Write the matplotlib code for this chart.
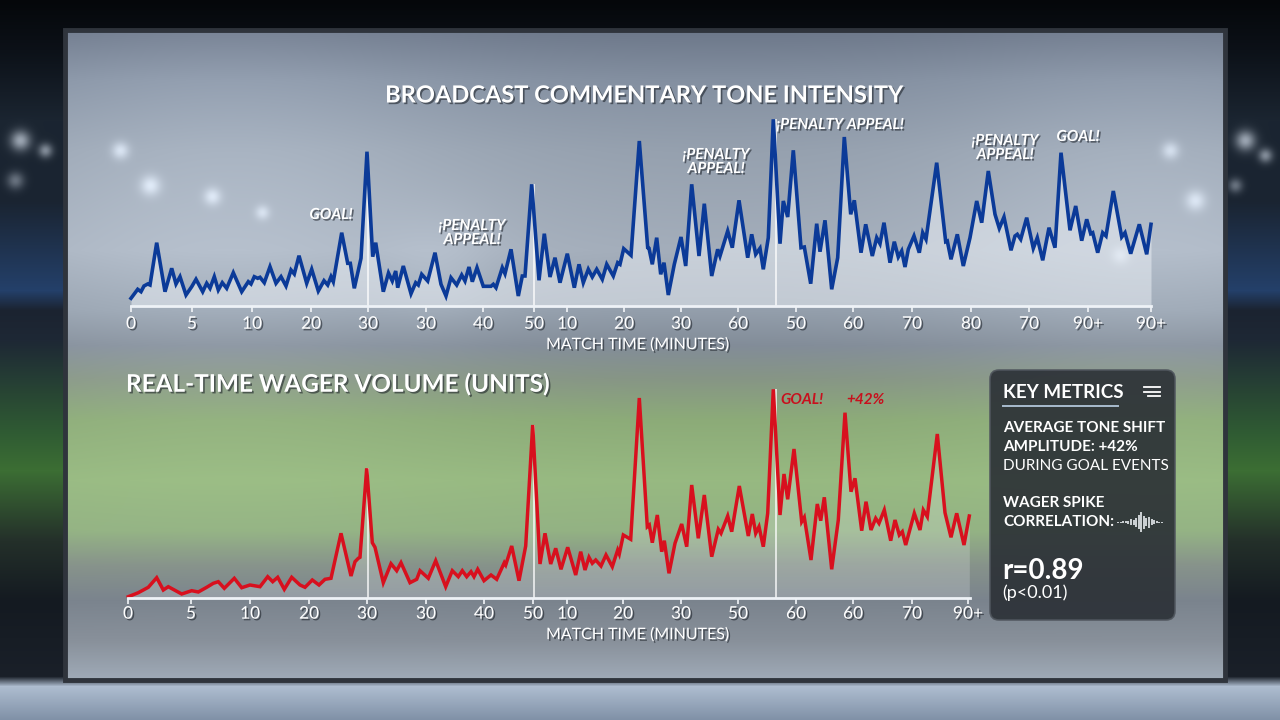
import numpy as np
import matplotlib
matplotlib.use("Agg")
import matplotlib.pyplot as plt
from matplotlib import patheffects as pe
from matplotlib.patches import Rectangle, FancyBboxPatch
from matplotlib.lines import Line2D

# ---------------- data ----------------
# timeline position of each sample (shared scale for both panels)
tone_t = [131, 137.7, 141, 144, 147.7, 150, 156.7, 165, 171.7, 176,
          180, 186, 191.7, 196, 202.7, 206.7, 210, 214.3, 218.3, 222.3,
          226.7, 233.3, 241.7, 248.3, 251, 254.3, 257.7, 260, 264.3, 270,
          276, 281, 286, 291, 294.3, 299, 306.7, 311.7, 318.3, 324,
          327.7, 331, 333.3, 341.7, 347.7, 350.3, 354.3, 361, 367, 372.7,
          375.7, 383.3, 388.5, 392.3, 395.7, 397.7, 403.3, 411, 415.7, 418.3,
          421.7, 427.7, 435, 441, 446, 451, 456.7, 461.7, 465, 469,
          472.3, 477, 483.3, 491, 493.3, 496, 502.3, 505, 511, 518.3,
          522.3, 525, 531.7, 539, 544.3, 550, 555, 560, 567.3, 574.3,
          579, 583.3, 588.3, 592.3, 596.7, 602.3, 606.7, 613.3, 617.7, 620,
          623.7, 631, 639.3, 647.7, 649, 652.3, 656.7, 660.7, 664, 668.3,
          674.3, 681, 685.7, 691.7, 699, 704.3, 711.7, 717.7, 720, 727.7,
          732.3, 739, 747.7, 751.7, 755.7, 760, 763.3, 768.3, 773.3, 780,
          783.3, 787.7, 793.3, 801, 804.3, 810.7, 816.7, 820, 825, 831.7,
          837.7, 844.3, 850.7, 854.3, 861, 865.7, 872.3, 876.7, 880, 884,
          890, 894.3, 898.3, 901.7, 905, 908.3, 914, 919.3, 922.7, 926,
          936.7, 945.7, 947.3, 951, 957.3, 963.3, 970, 976.7, 981.7, 988.3,
          995, 999.3, 1004, 1011, 1015, 1017.3, 1020.7, 1026.7, 1033.3, 1037.3,
          1042.7, 1049, 1055, 1061, 1070, 1075.7, 1081.7, 1086.7, 1090.7, 1092.7,
          1097.7, 1102.7, 1106, 1113.3, 1121.7, 1125, 1130.7, 1139.3, 1146.7, 1151]
tone_v = [7.7, 16.7, 14.3, 20, 22, 21, 63.3, 14.3, 37.7, 22,
          29.3, 11, 19.3, 26.7, 14.3, 22.7, 17.7, 29.3, 16, 23.3,
          17.7, 33.3, 14.3, 24.3, 22, 29.3, 27.7, 28.7, 23.3, 39.3,
          22.7, 29.3, 20, 36, 32, 50.3, 22.7, 36.7, 15, 25.3,
          21, 29.3, 24.3, 73.3, 42.7, 42.7, 17.7, 47.7, 154.3, 49.3,
          63.3, 14.3, 33, 25, 35, 18.3, 40, 12.3, 23.3, 21,
          31.7, 25, 53.3, 21.7, 10, 28.3, 21, 31, 25, 39,
          24.3, 38.3, 19.7, 19.7, 21.7, 18.3, 38.3, 32.3, 56.7, 10,
          30, 30, 121.7, 25.7, 72.3, 29, 48.3, 23.3, 52.3, 18.3,
          41.7, 23.3, 36.7, 29, 36.7, 26.7, 41.7, 30, 43.3, 41.7,
          57.3, 50.7, 165, 58.3, 57.7, 41.7, 68.3, 31.7, 43.3, 11,
          41.7, 69, 40, 121.7, 50, 102.3, 30, 56.7, 50, 75,
          58.3, 105.7, 48.3, 71.7, 51.7, 57.7, 36.7, 68.3, 186.7, 62.3,
          105, 89, 155.7, 58.3, 59, 22.3, 82.3, 54.3, 85.7, 16.7,
          48.3, 169, 91.7, 105.7, 53.3, 81.7, 50, 68.3, 62.3, 83.3,
          43.3, 64.3, 49, 55, 39, 56.7, 70, 53.3, 73.3, 66.7,
          143.3, 64.3, 65, 46.7, 71.7, 40, 68.3, 105, 83.3, 135,
          91.7, 77.7, 89, 55.7, 70, 71.7, 66.7, 88.3, 57.7, 68.3,
          45.7, 78.3, 58.3, 153.3, 75.7, 100, 65.3, 86.7, 72.3, 73.3,
          53.3, 73.3, 70, 115, 69, 73.3, 52.3, 81.7, 51.7, 81.7]

wager_t = [128.3, 138.3, 148.3, 156.7, 163.3, 168.3, 181.7, 191.7, 198.3, 206.7,
           213.3, 218.3, 224.3, 234.3, 241.7, 250, 260, 267.7, 272.7, 277.7,
           284.3, 291.7, 300, 305, 312.3, 319, 325, 331, 341, 351,
           355, 358.3, 360, 366.7, 372.3, 375, 383.3, 391, 396.7, 401,
           410, 416.7, 420, 428.3, 435.7, 445.7, 452.3, 458.3, 462.3, 466.7,
           471, 474, 477.7, 484, 491, 496.7, 504.3, 505.7, 511.7, 519,
           525.7, 532.7, 540, 545, 550.7, 555.7, 561, 567.7, 575.7, 580.7,
           585, 589, 592.3, 595.7, 601, 606, 612.3, 617.7, 619.3, 623.3,
           630.7, 639.3, 647.3, 649.3, 652.3, 657.3, 661.7, 664.3, 669, 675,
           681.7, 686.7, 691.7, 698.3, 704.3, 711.7, 718.3, 721, 727.7, 731.7,
           739.3, 748.3, 752.3, 755.7, 759, 763.3, 767.7, 773.3, 780, 784,
           787.7, 794, 801.7, 804.3, 811, 817.3, 820.7, 824.3, 831.7, 838.3,
           845, 851, 855, 861.7, 866, 871, 875.7, 879, 884.3, 890.7,
           895, 899.3, 902.3, 905.7, 914.3, 920, 923.3, 927.3, 937.3, 945,
           951, 956.7, 964, 969.3]
wager_v = [1.3, 5.3, 10.7, 20.3, 8, 11.3, 4, 7.3, 6, 10.7,
           14.7, 16.3, 9.7, 19.7, 10.3, 13, 11.3, 21.3, 16.3, 20.7,
           8.7, 20.7, 13, 10.7, 18, 13, 18.7, 19.7, 64.7, 22,
           36.3, 39.7, 40.7, 129.7, 55.3, 50.7, 15.3, 34.3, 27.3, 35.3,
           15.3, 18.7, 27.3, 19.7, 37.3, 11.3, 27.3, 21.3, 27.3, 21.3,
           26.3, 21.3, 28.7, 17.3, 23, 18.7, 35.3, 33, 52, 17.3,
           52, 173, 34, 64.7, 34, 49.7, 28.7, 50.7, 23, 46.3,
           28, 40.7, 34.7, 38, 32, 43, 31.3, 48, 44, 63,
           58.7, 200, 71.3, 73, 55.3, 83, 46.3, 57.3, 24.7, 54.7,
           74, 51.3, 113, 59.7, 103, 41.3, 68.7, 64.7, 82, 66.3,
           112, 62, 84, 64.7, 71.3, 51.3, 84.7, 208.7, 83, 124,
           98.7, 149, 76.3, 80.7, 38, 94, 77.3, 100.7, 28.7, 78,
           185.3, 106.3, 119.7, 67.3, 96.3, 68, 79.7, 74.7, 88, 57.3,
           78, 63, 66.3, 53, 84.7, 68, 88, 81.3, 164, 85.3,
           60.7, 84.7, 53, 82]

top_tick_pos = [131, 192, 252, 311, 368, 426, 483, 534, 567, 624, 681, 738, 796,
                853, 912, 971, 1029, 1088, 1151]
top_tick_lab = ["0", "5", "10", "20", "30", "30", "40", "50", "10", "20", "30", "60",
                "50", "60", "70", "80", "70", "90+", "90+"]
bot_tick_pos = [128, 191, 250, 309, 367, 426, 484, 533, 567, 623, 681, 738, 796,
                853, 912, 968]
bot_tick_lab = ["0", "5", "10", "20", "30", "30", "40", "50", "10", "20", "30", "50",
                "60", "60", "70", "90+"]
event_t = [368, 534, 776]

top_annotations = [("GOAL!", 331, 215), ("¡PENALTY\nAPPEAL!", 472, 233),
                   ("¡PENALTY\nAPPEAL!", 716, 162), ("¡PENALTY APPEAL!", 840, 125),
                   ("¡PENALTY\nAPPEAL!", 1005, 148), ("GOAL!", 1078, 137)]
bot_annotations = [("GOAL!", 802, 400), ("+42%", 865, 400)]
wave_heights = [1, 1, 2, 2, 3, 6, 5, 9, 14, 20, 13, 8, 11, 6, 4, 2, 1, 1]

FONT = ["Lato", "DejaVu Sans"]
plt.rcParams["font.family"] = FONT

# ---------------- background ----------------
H, W = 720, 1280


def hex2rgb(h):
    return np.array([int(h[i:i + 2], 16) for i in (1, 3, 5)]) / 255.0


def row_grad(ys_stop, cols_stop):
    ys = np.arange(H)
    cols = np.array([hex2rgb(c) for c in cols_stop])
    return np.stack([np.interp(ys, ys_stop, cols[:, k]) for k in range(3)], axis=1)


yy, xx = np.mgrid[0:H, 0:W]


def blob(cx, cy, s, a):
    return a * np.exp(-((xx - cx) ** 2 + (yy - cy) ** 2) / (2.0 * s ** 2))


outside = row_grad([0, 50, 120, 200, 290, 310, 340, 430, 470, 540, 600, 676, 686, 720],
                   ['#05070a', '#0c1118', '#1b2531', '#1a2431', '#24406a', '#1b2330',
                    '#1e2835', '#2f5a33', '#3c6e34', '#24302a', '#141a21', '#1a2029',
                    '#aebdd0', '#7f90a6'])
img = np.repeat(outside[:, None, :], W, axis=1)
og = (blob(20, 140, 7, 0.5) + blob(45, 150, 5, 0.4) + blob(15, 180, 6, 0.3) +
      blob(1245, 140, 7, 0.5) + blob(1265, 155, 5, 0.4) + blob(1235, 185, 5, 0.3))
img = img + og[..., None]

panel = row_grad([30, 80, 150, 250, 310, 345, 378, 420, 480, 530, 565, 600, 640, 680],
                 ['#6c7789', '#838fa0', '#95a0ae', '#a3adba', '#939eab', '#828c98',
                  '#869585', '#8cab78', '#97b981', '#93b283', '#86928a', '#7a838d',
                  '#88909a', '#a0abb8'])
glow = (blob(230, 190, 170, 0.08) + blob(1150, 210, 150, 0.07) +
        blob(120, 150, 6, 0.2) + blob(150, 185, 7, 0.2) + blob(212, 196, 6, 0.18) +
        blob(262, 212, 5, 0.15) + blob(1170, 150, 6, 0.18) + blob(1195, 200, 7, 0.18) +
        blob(1120, 255, 6, 0.15) + blob(440, 270, 40, 0.04))
pimg = panel[:, None, :] + glow[..., None]
mask = (xx >= 65) & (xx <= 1225) & (yy >= 30) & (yy <= 680)
img[mask] = pimg[mask]
img = np.clip(img, 0, 1)

fig = plt.figure(figsize=(12.8, 7.2), dpi=100)
bg = fig.add_axes([0, 0, 1, 1])
bg.imshow(img, extent=(0, W, H, 0), interpolation="bilinear", aspect="auto")
bg.set_xlim(0, W)
bg.set_ylim(H, 0)
bg.axis("off")
bg.add_patch(Rectangle((65, 30), 1160, 650, fill=False, ec="#2f343c", lw=3.5))

shadow = [pe.SimplePatchShadow(offset=(1.2, -1.2), shadow_rgbFace="#141920", alpha=0.55),
          pe.Normal()]

# ---------------- titles ----------------
bg.text(644, 95, "BROADCAST COMMENTARY TONE INTENSITY", color="white",
        fontsize=17, fontweight="bold", ha="center", va="center", path_effects=shadow)
bg.text(126, 384, "REAL-TIME WAGER VOLUME (UNITS)", color="white",
        fontsize=17.5, fontweight="bold", ha="left", va="center", path_effects=shadow)
bg.text(638, 345, "MATCH TIME (MINUTES)", color="white", fontsize=11.5,
        ha="center", va="center", path_effects=shadow)
bg.text(638, 635, "MATCH TIME (MINUTES)", color="white", fontsize=11.5,
        ha="center", va="center", path_effects=shadow)


def style_axis(ax, bounds, ticks, labels, pad):
    ax.patch.set_alpha(0)
    for s in ("top", "right", "left"):
        ax.spines[s].set_visible(False)
    ax.spines["bottom"].set_color("#eef2f7")
    ax.spines["bottom"].set_linewidth(2)
    ax.spines["bottom"].set_bounds(*bounds)
    ax.set_yticks([])
    ax.set_xticks(ticks)
    ax.set_xticklabels(labels)
    ax.tick_params(axis="x", colors="#f2f5f8", length=4, width=1.2, pad=pad,
                   labelsize=12.5, labelcolor="white")
    for lab in ax.get_xticklabels():
        lab.set_path_effects(shadow)


def peak_near(ts, vs, t0, w=6):
    ts = np.asarray(ts)
    vs = np.asarray(vs)
    sel = np.abs(ts - t0) <= w
    return vs[sel].max()


# ---------------- top chart ----------------
ax1 = fig.add_axes([120 / W, (H - 306) / H, 1045 / W, 196 / H])
ax1.fill_between(tone_t, tone_v, 0, color="#e8edf3", alpha=0.55, lw=0)
ax1.vlines(event_t, 0, [peak_near(tone_t, tone_v, e) for e in event_t],
           color="white", lw=1.1, alpha=0.9)
ax1.plot(tone_t, tone_v, color="#0b3a98", lw=2.6, solid_joinstyle="miter")
ax1.set_xlim(120, 1165)
ax1.set_ylim(0, 196)
style_axis(ax1, (131, 1151), top_tick_pos, top_tick_lab, 3)
for txt, x, y in top_annotations:
    ax1.text(x, y, txt, transform=bg.transData, color="white", fontsize=11,
             fontweight="bold", fontstyle="italic", ha="center", va="center",
             linespacing=1.0, path_effects=shadow)

# ---------------- bottom chart ----------------
ax2 = fig.add_axes([120 / W, (H - 598) / H, 865 / W, 215 / H])
ax2.fill_between(wager_t, wager_v, 0, color="#eef2f6", alpha=0.22, lw=0)
ax2.vlines(event_t, 0, [peak_near(wager_t, wager_v, e) for e in event_t],
           color="white", lw=1.1, alpha=0.9)
ax2.plot(wager_t, wager_v, color="#d8101e", lw=2.5, solid_joinstyle="miter")
ax2.set_xlim(120, 985)
ax2.set_ylim(0, 215)
style_axis(ax2, (128, 970), bot_tick_pos, bot_tick_lab, 1.5)
for txt, x, y in bot_annotations:
    ax2.text(x, y, txt, transform=bg.transData, color="#c8101d", fontsize=11,
             fontweight="bold", fontstyle="italic", ha="center", va="center")

# ---------------- key metrics box ----------------
bg.add_patch(FancyBboxPatch((990, 370), 185, 250, boxstyle="round,pad=0,rounding_size=9",
                            fc="#2a2f35", ec="#50565e", lw=1.2, alpha=0.9))
bg.text(1003, 392, "KEY METRICS", color="white", fontsize=13.5, fontweight="bold",
        ha="left", va="center")
bg.add_line(Line2D([1003, 1118], [406, 406], color="#a9bccf", lw=1.4))
for i, (x0, x1) in enumerate([(1144, 1160), (1144, 1160), (1148, 1160)]):
    bg.add_line(Line2D([x0, x1], [387 + i * 4.5, 387 + i * 4.5], color="white", lw=1.3))
bg.text(1003, 428, "AVERAGE TONE SHIFT", color="white", fontsize=11, fontweight="bold",
        ha="left", va="center")
bg.text(1003, 447, "AMPLITUDE: +42%", color="white", fontsize=11, fontweight="bold",
        ha="left", va="center")
bg.text(1003, 466, "DURING GOAL EVENTS", color="white", fontsize=11,
        ha="left", va="center")
bg.text(1003, 503, "WAGER SPIKE", color="white", fontsize=11, fontweight="bold",
        ha="left", va="center")
bg.text(1003, 522, "CORRELATION:", color="white", fontsize=11, fontweight="bold",
        ha="left", va="center")
wx = np.linspace(1118, 1162, len(wave_heights))
bg.vlines(wx, [522 - h / 2 for h in wave_heights], [522 + h / 2 for h in wave_heights],
          color="#e8ecf0", lw=1.2)
bg.text(1002, 571, "r=0.89", color="white", fontsize=20, fontweight="bold",
        ha="left", va="center")
bg.text(1002, 593, "(p<0.01)", color="white", fontsize=13, ha="left", va="center")

fig.savefig("out.png", dpi=100)
